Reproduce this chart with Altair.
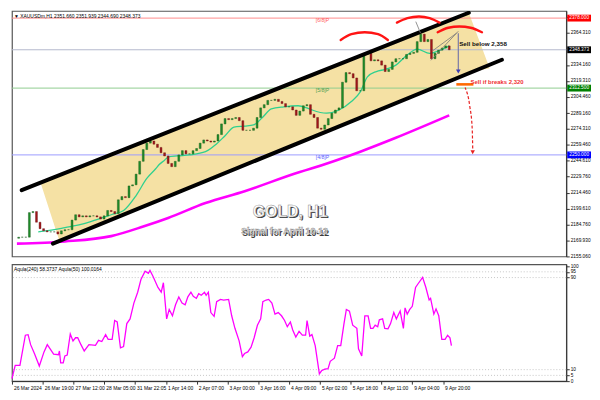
import json
import altair as alt
import pandas as pd

# ---------------- data ----------------
# 2-hour sampled closes, bar index = hours from 26 Mar 2024 00:00 (odd bars 1..243)
closes = [2173, 2173, 2173, 2196, 2197, 2187, 2181, 2179, 2178, 2178,
          2178, 2176, 2179, 2180, 2180, 2189, 2194, 2192, 2193, 2192,
          2193, 2193, 2192, 2190, 2193, 2198, 2197, 2195, 2208, 2211,
          2210, 2221, 2222, 2232, 2244, 2255, 2261, 2263, 2260, 2257,
          2252, 2249, 2242, 2239, 2244, 2250, 2254, 2251, 2251, 2254,
          2256, 2261, 2264, 2263, 2262, 2263, 2269, 2279, 2284, 2283,
          2284, 2285, 2282, 2273, 2273, 2273, 2275, 2285, 2294, 2297,
          2301, 2301, 2302, 2300, 2298, 2295, 2295, 2292, 2287, 2291,
          2296, 2297, 2288, 2285, 2275, 2274, 2278, 2284, 2289, 2292,
          2294, 2318, 2327, 2326, 2322, 2310, 2310, 2344, 2345, 2338,
          2339, 2338, 2334, 2328, 2330, 2337, 2340, 2340, 2340, 2344,
          2345, 2346, 2356, 2363, 2356, 2358, 2340, 2345, 2348, 2350,
          2352, 2348.373]
first_open = 2172.0

ma_fast_bars = [12, 21, 27, 36, 44, 53, 60, 67, 73, 78, 80, 83, 85, 90, 97, 106, 112, 117, 122, 128,
                133, 138, 143, 150, 158, 163, 166, 174, 181, 188, 193, 197, 202, 207, 213, 219, 225, 232, 238, 243]
ma_fast_vals = [2178, 2180, 2182, 2185, 2189, 2194, 2198, 2212, 2228, 2237, 2241, 2245, 2248, 2249, 2250, 2253, 2260, 2268, 2276, 2277,
                2278, 2285, 2293, 2295, 2296, 2294, 2292, 2289, 2292, 2300, 2309, 2323, 2328, 2330, 2334, 2343, 2349, 2345, 2348, 2352]

ma_slow_bars = [0, 27, 53, 71, 85, 106, 128, 159, 165, 193, 213, 243]
ma_slow_vals = [2167, 2169, 2174, 2183, 2191, 2205, 2216, 2234, 2237, 2253, 2266, 2287]

osc_bars = [0, 1.8, 4.4, 7.4, 8.9, 10.3, 12.4, 15.1, 17.7, 19.5, 23.0, 25.7, 26.2, 26.9, 28.3, 29.2, 30.5, 32.2, 33.7, 35.1,
            36.3, 38.1, 39.9, 42.5, 46.1, 47.8, 49.6, 51.7, 53.1, 55.3, 56.7, 58.1, 59.9, 61.6, 63.4, 65.2, 67.3, 69.4, 71.2, 73.5,
            75.3, 76.2, 77.9, 80.6, 82.4, 83.6, 85.4, 86.8, 88.6, 90.3, 92.1, 93.9, 95.6, 97.1, 98.8, 100.1, 101.8, 103.1, 104.5, 106.3,
            107.2, 108.4, 109.8, 111.6, 113.0, 115.1, 116.9, 119.6, 121.3, 123.1, 125.4, 127.2, 128.4, 130.2, 132.0, 133.7, 135.5, 137.3, 138.5, 140.3,
            141.7, 143.5, 145.2, 147.0, 148.8, 150.5, 152.0, 153.7, 155.0, 156.7, 158.5, 160.3, 162.1, 162.9, 164.4, 165.6, 167.4, 169.7, 170.9, 172.7,
            174.5, 175.7, 178.0, 179.8, 181.5, 183.3, 184.6, 186.3, 188.1, 190.4, 191.3, 193.1, 194.8, 196.6, 198.0, 199.3, 200.5, 201.9, 202.8, 204.6,
            205.8, 207.6, 209.0, 210.8, 212.2, 214.3, 216.1, 217.0, 218.2, 219.6, 221.0, 222.8, 224.0, 226.7, 228.5, 230.3, 231.1, 232.9, 234.1, 235.6,
            237.3, 239.1, 240.5, 241.8, 242.6]
osc_vals = [2.2, 13.7, 13.7, 39.9, 40.4, 31.7, 24.0, 13.1, 25.4, 31.7, 23.5, 23.0, 26.2, 15.8, 15.8, 21.9, 22.7, 41.0, 35.0, 37.7,
            37.7, 31.7, 26.2, 31.7, 31.1, 35.5, 34.4, 40.4, 36.3, 36.3, 52.7, 51.4, 29.0, 30.1, 50.0, 54.1, 67.8, 77.3, 88.3, 95.6,
            93.7, 96.2, 91.0, 81.4, 77.3, 85.5, 54.1, 62.3, 56.8, 66.4, 73.2, 67.8, 66.4, 73.2, 77.3, 73.8, 71.9, 76.0, 74.6, 77.3,
            74.6, 77.3, 59.6, 56.3, 69.1, 71.0, 70.5, 71.0, 56.8, 45.9, 35.0, 21.3, 24.0, 25.4, 29.5, 37.7, 48.6, 54.1, 69.1, 70.5,
            71.0, 67.8, 58.2, 59.6, 56.8, 52.7, 47.3, 51.4, 44.5, 38.3, 43.2, 39.9, 39.9, 52.7, 39.1, 40.4, 30.9, 6.3, 9.0, 10.4,
            10.9, 17.2, 19.9, 30.9, 30.9, 50.0, 62.3, 60.9, 48.6, 45.9, 28.1, 21.9, 56.8, 56.8, 45.9, 45.9, 48.6, 47.3, 53.3, 54.1,
            45.9, 45.4, 50.0, 59.6, 54.1, 60.9, 45.9, 63.7, 58.2, 62.3, 65.0, 81.4, 84.2, 90.2, 81.4, 70.5, 71.9, 58.2, 62.8, 56.8,
            36.3, 36.3, 39.9, 37.7, 30.9]

# channel (two parallel trend lines) and its yellow fill
chan_id = ["upper", "upper", "lower", "lower"]
chan_bars = [2.7, 254, 20.2, 272.6]
chan_prices = [2217, 2383, 2167, 2339]
fill_bars = [13.3, 23.9, 254, 265.7]
fill_top = [2224, 2231, 2383, 2331]
fill_bottom = [2224, 2169.5, 2327, 2331]

# horizontal levels
level_prices = [2378.0, 2348.373, 2312.5, 2250.0]
level_colors = ["#ff8a8a", "#b4b8cc", "#90cc90", "#9c9cff"]
level_box_colors = ["#ff0000", "#000000", "#008000", "#0000ff"]
murrey_names = ["[6/8]P", "[5/8]P", "[4/8]P"]
murrey_prices = [2378.0, 2312.5, 2250.0]
murrey_colors = ["#ff5a5a", "#4fa04f", "#5a5aff"]

price_ticks = [2379.010, 2364.310, 2334.160, 2319.310, 2304.460, 2289.160, 2274.310, 2259.460,
               2244.610, 2229.760, 2214.460, 2199.610, 2184.760, 2169.930, 2155.060]
osc_ticks = [100, 95, 90, 10, 5, 0]
osc_levels = [95, 90, 10, 5]

xtick_bars = [0, 17, 34, 51, 68, 85, 102, 119, 136, 153, 170, 187, 204, 221, 238]
xtick_labels = ["26 Mar 2024", "26 Mar 19:00", "27 Mar 12:00", "28 Mar 05:00", "31 Mar 22:05",
                "1 Apr 14:00", "2 Apr 07:00", "3 Apr 00:00", "3 Apr 16:00", "4 Apr 09:00",
                "5 Apr 02:00", "5 Apr 18:00", "8 Apr 11:00", "9 Apr 04:00", "9 Apr 20:00"]

# head & shoulders arcs
arc_id = ["a1"] * 5 + ["a2"] * 5 + ["a3"] * 5
arc_bars = [182, 188, 195.5, 203, 208.5, 213.6, 219.5, 226, 232, 237.5, 236.5, 242.5, 248.7, 255, 261.4]
arc_prices = [2357.5, 2363, 2364.8, 2363, 2357.5, 2373.8, 2378, 2379.5, 2378, 2373.8, 2364.8, 2369, 2370.2, 2369, 2364.8]

wedge_id = ["w1", "w1", "w2", "w2", "w3", "w3"]
wedge_bars = [232.7, 248.1, 233.8, 247.1, 224.2, 226.9]
wedge_prices = [2338.5, 2365.7, 2347.6, 2363.9, 2374.7, 2363.9]

sell_arrow = {"bar": 248.1, "from": 2363.9, "to": 2328.0}
orange_bars = [247, 256.6]
orange_price = 2316.0
dash_bars = [251.9, 254.6, 255.9, 256.2]
dash_prices = [2313, 2295, 2275, 2256]

header = "\u25bc XAUUSDm,H1  2351.660 2351.939 2344.690 2348.373"
osc_header = "Aqula(240) 58.3737   Aqula(50) 100.0164"

# ---------------- chart ----------------
W, H1, H2 = 560, 248, 118
FONT = "Liberation Sans"
xs = alt.Scale(domain=[0, 306], nice=False, zero=False)
ys = alt.Scale(domain=[2155, 2384.7], nice=False, zero=False)
os_ = alt.Scale(domain=[0, 101.5], nice=False, zero=False)

AXIS_COMMON = dict(orient="right", title=None, labelFontSize=4.8, labelFont=FONT, tickSize=3, labelPadding=1,
                   grid=False, labelOverlap=False, labelFlush=False, domainColor="#333", tickColor="#333",
                   labelColor="#000")
AX_PRICE = alt.Axis(values=price_ticks, format=".3f", **AXIS_COMMON)
AX_OSC = alt.Axis(values=osc_ticks, format="d", **AXIS_COMMON)

opens = [first_open] + closes[:-1]
candles = pd.DataFrame({"bar": [1 + 2 * i for i in range(len(closes))], "open": opens, "close": closes})
candles["dir"] = ["up" if c >= o else "down" for o, c in zip(opens, closes)]


def X(f="bar"):
    return alt.X(f"{f}:Q", scale=xs, axis=None)


def Y(f):
    return alt.Y(f"{f}:Q", scale=ys, axis=AX_PRICE)


fill = alt.Chart(pd.DataFrame({"bar": fill_bars, "top": fill_top, "bot": fill_bottom})).mark_area(
    color="#f5e1a4", opacity=1).encode(x=X(), y=Y("top"), y2="bot:Q")

levels = alt.Chart(pd.DataFrame({"p": level_prices, "c": level_colors})).mark_rule(strokeWidth=1).encode(
    y=Y("p"), color=alt.Color("c:N", scale=None))

mur = alt.Chart(pd.DataFrame({"t": murrey_names, "p": murrey_prices, "c": murrey_colors, "bar": [168] * 3})).mark_text(
    align="left", baseline="middle", dy=2, fontSize=5.2, font=FONT).encode(
    x=X(), y=Y("p"), text="t:N", color=alt.Color("c:N", scale=None))

ma_slow = alt.Chart(pd.DataFrame({"bar": ma_slow_bars, "v": ma_slow_vals})).mark_line(
    color="#ff00ff", strokeWidth=2.6, interpolate="monotone").encode(x=X(), y=Y("v"))
ma_fast = alt.Chart(pd.DataFrame({"bar": ma_fast_bars, "v": ma_fast_vals})).mark_line(
    color="#2fd08f", strokeWidth=1.3, interpolate="monotone").encode(x=X(), y=Y("v"))

candle_layer = alt.Chart(candles).mark_bar(size=1.9, strokeWidth=0.4).encode(
    x=X(),
    y=Y("open"),
    y2="close:Q",
    color=alt.Color("dir:N", scale=alt.Scale(domain=["up", "down"], range=["#1f8f2a", "#a4161a"]), legend=None),
    stroke=alt.Color("dir:N", scale=alt.Scale(domain=["up", "down"], range=["#0d4d12", "#5a0a0c"]), legend=None),
)

channel = alt.Chart(pd.DataFrame({"id": chan_id, "bar": chan_bars, "p": chan_prices})).mark_line(
    color="#000000", strokeWidth=4, strokeCap="round", clip=True).encode(x=X(), y=Y("p"), detail="id:N")

arcs = alt.Chart(pd.DataFrame({"id": arc_id, "bar": arc_bars, "p": arc_prices})).mark_line(
    color="#ff1414", strokeWidth=2.4, interpolate="monotone", strokeCap="round").encode(x=X(), y=Y("p"), detail="id:N")

wedge = alt.Chart(pd.DataFrame({"id": wedge_id, "bar": wedge_bars, "p": wedge_prices})).mark_line(
    color="#777777", strokeWidth=0.8).encode(x=X(), y=Y("p"), detail="id:N")

arrow_df = pd.DataFrame({"bar": [sell_arrow["bar"]], "a": [sell_arrow["from"]], "b": [sell_arrow["to"]]})
arrow_rule = alt.Chart(arrow_df).mark_rule(color="#7a7aa6", strokeWidth=1.2).encode(x=X(), y=Y("a"), y2="b:Q")
arrow_head = alt.Chart(arrow_df).mark_point(shape="triangle-down", filled=True, size=22, color="#3c3cb4", opacity=1).encode(
    x=X(), y=Y("b"))

orange = alt.Chart(pd.DataFrame({"bar": orange_bars, "p": [orange_price] * 2})).mark_line(
    color="#ff6a00", strokeWidth=2.6).encode(x=X(), y=Y("p"))

dash = alt.Chart(pd.DataFrame({"bar": dash_bars, "p": dash_prices})).mark_line(
    color="#e82020", strokeWidth=1.2, strokeDash=[3, 2], interpolate="monotone").encode(
    x=X(), y=Y("p"), order="p:Q")
dash_head = alt.Chart(pd.DataFrame({"bar": [dash_bars[-1]], "p": [2252.5]})).mark_point(
    shape="triangle-down", filled=True, size=20, color="#e82020", opacity=1).encode(x=X(), y=Y("p"))

sell1 = alt.Chart(pd.DataFrame({"bar": [248.6], "p": [2353.9], "t": ["Sell below 2,358"]})).mark_text(
    align="left", baseline="middle", fontSize=6.3, fontWeight="bold", font=FONT, color="#111111").encode(
    x=X(), y=Y("p"), text="t:N")
sell2 = alt.Chart(pd.DataFrame({"bar": [255], "p": [2318.5], "t": ["Sell if breaks 2,320"]})).mark_text(
    align="left", baseline="middle", fontSize=6, fontWeight="bold", font=FONT, color="#f03030").encode(
    x=X(), y=Y("p"), text="t:N")

wm_df = pd.DataFrame({"bar": [153.6, 150.4], "p": [2196.6, 2178.5], "t": ["GOLD, H1", "Signal for April 10-12"],
                      "s": [16, 8.8]})
wm_shadow = alt.Chart(wm_df).mark_text(fontWeight="bold", font=FONT, color="#3a3a3a", dx=1.2, dy=1.4,
                                       baseline="middle").encode(
    x=X(), y=Y("p"), text="t:N", size=alt.Size("s:Q", scale=None, legend=None))
wm_text = alt.Chart(wm_df).mark_text(fontWeight="bold", font=FONT, color="#ffffff", stroke="#8a8a8a",
                                     strokeWidth=0.5, baseline="middle").encode(
    x=X(), y=Y("p"), text="t:N", size=alt.Size("s:Q", scale=None, legend=None))

head = alt.Chart(pd.DataFrame({"t": [header]})).mark_text(
    align="left", baseline="middle", fontSize=5, font=FONT, color="#000000").encode(
    text="t:N", x=alt.value(2), y=alt.value(5))

box_df = pd.DataFrame({"p": level_prices, "c": level_box_colors,
                       "t": [f"{v:.3f}" for v in level_prices]})
box_rect = alt.Chart(box_df).transform_calculate(lo="datum.p - 3.2", hi="datum.p + 3.2").mark_rect().encode(
    x=alt.value(W + 1), x2=alt.value(W + 25), y=Y("lo"), y2="hi:Q", color=alt.Color("c:N", scale=None))
box_text = alt.Chart(box_df).mark_text(align="left", baseline="middle", fontSize=4.8, font=FONT,
                                       color="#ffffff").encode(x=alt.value(W + 3), y=Y("p"), text="t:N")

top = alt.layer(fill, levels, mur, ma_slow, ma_fast, candle_layer, channel, arcs, wedge, arrow_rule, arrow_head,
                orange, dash, dash_head, sell1, sell2, wm_shadow, wm_text, head, box_rect, box_text).properties(
    width=W, height=H1)

label_expr = f"{json.dumps(xtick_labels)}[indexof({json.dumps(xtick_bars)}, datum.value)]"
AX_TIME = alt.Axis(values=xtick_bars, labelExpr=label_expr, labelAlign="left", labelFontSize=5, labelFont=FONT,
                   tickSize=3, labelPadding=1, labelOffset=1.5, labelOverlap=False, labelFlush=False, title=None,
                   grid=False, domainColor="#333", tickColor="#333", labelColor="#000")

osc_level = alt.Chart(pd.DataFrame({"v": osc_levels})).mark_rule(
    color="#b8b8b8", strokeWidth=0.8, strokeDash=[1, 2]).encode(y=alt.Y("v:Q", scale=os_, axis=AX_OSC))
osc_line = alt.Chart(pd.DataFrame({"bar": osc_bars, "v": osc_vals})).mark_line(
    color="#ff00ff", strokeWidth=1.3).encode(
    x=alt.X("bar:Q", scale=xs, axis=AX_TIME),
    y=alt.Y("v:Q", scale=os_, axis=AX_OSC))
osc_head = alt.Chart(pd.DataFrame({"t": [osc_header]})).mark_text(
    align="left", baseline="middle", fontSize=5, font=FONT, color="#000000").encode(
    text="t:N", x=alt.value(2), y=alt.value(5))

bottom = alt.layer(osc_level, osc_line, osc_head).properties(width=W, height=H2)

chart = alt.vconcat(top, bottom, spacing=3).properties(
    padding={"left": 0, "top": 0, "right": 0, "bottom": 0}, background="#ffffff"
).configure_view(stroke="#555555", strokeWidth=1.2)

chart.save("out.html", embed_options={"renderer": "svg", "actions": False})
